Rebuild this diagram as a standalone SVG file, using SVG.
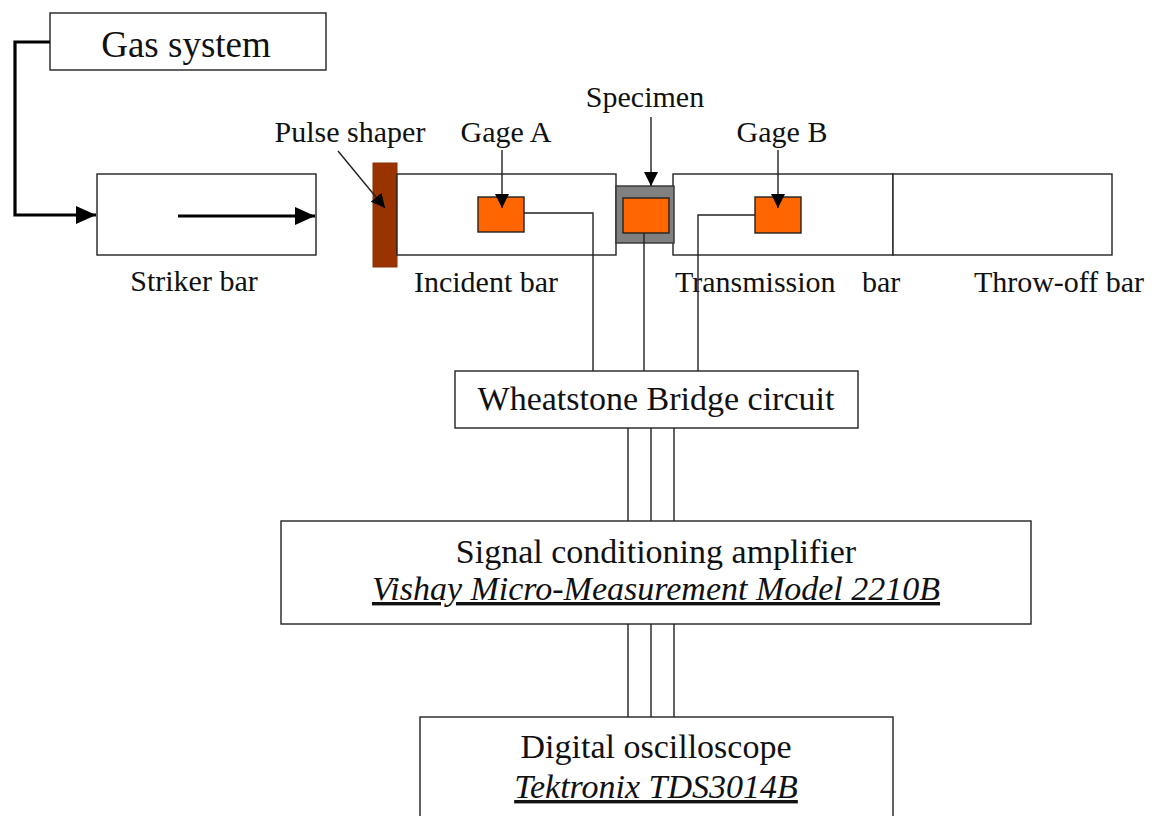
<svg xmlns="http://www.w3.org/2000/svg" width="1157" height="816" viewBox="0 0 1157 816">
<style>
text{font-family:"Liberation Serif","Times New Roman",serif;fill:#111}
.box{fill:#fff;stroke:#222;stroke-width:1.4}
.lbl{font-size:30px}
.big{font-size:34px}
.it{font-style:italic;text-decoration:underline}
.wire{fill:none;stroke:#222;stroke-width:1.4}
.thick{fill:none;stroke:#000;stroke-width:3.2}
.gage{fill:#FF6600;stroke:#222;stroke-width:1.4}
</style>
<defs>
<marker id="bigHead" markerUnits="userSpaceOnUse" viewBox="0 0 20 18" markerWidth="20" markerHeight="18" refX="20" refY="9" orient="auto">
<path d="M0,0 L20,9 L0,18 Z" fill="#000"/>
</marker>
<marker id="smallHead" markerUnits="userSpaceOnUse" viewBox="0 0 14 14" markerWidth="14" markerHeight="14" refX="14" refY="7" orient="auto">
<path d="M0,0 L14,7 L0,14 Z" fill="#000"/>
</marker>
</defs>
<rect width="1157" height="816" fill="#fff"/>

<g id="gas-system">
<rect class="box" x="50" y="13" width="276" height="57"/>
<text x="186" y="57" font-size="37" text-anchor="middle">Gas system</text>
</g>

<g id="striker-bar">
<rect class="box" x="97" y="174" width="219" height="81"/>
<text class="lbl" x="194" y="291" text-anchor="middle">Striker bar</text>
</g>

<g id="pulse-shaper">
<rect x="373" y="163" width="24" height="104" fill="#993300" stroke="#8a2e00" stroke-width="1"/>
<text class="lbl" x="350" y="142" text-anchor="middle">Pulse shaper</text>
</g>

<g id="incident-bar">
<rect class="box" x="397" y="174" width="219" height="81"/>
<text class="lbl" x="486" y="292" text-anchor="middle">Incident bar</text>
</g>

<g id="gage-a">
<rect class="gage" x="478" y="197" width="46" height="35"/>
<text class="lbl" x="506" y="142" text-anchor="middle">Gage A</text>
</g>

<g id="transmission-bar">
<rect class="box" x="673" y="174" width="220" height="81"/>
<text class="lbl" x="675" y="292" xml:space="preserve" style="white-space:pre">Transmission   <tspan x="862">bar</tspan></text>
</g>

<g id="throw-off-bar">
<rect class="box" x="893" y="174" width="219" height="81"/>
<text class="lbl" x="1059" y="292" text-anchor="middle">Throw-off bar</text>
</g>

<g id="specimen">
<rect x="616" y="186" width="58" height="57" fill="#808080" stroke="#333" stroke-width="1.4"/>
<rect class="gage" x="623" y="198" width="46" height="35"/>
<text class="lbl" x="645" y="107" text-anchor="middle">Specimen</text>
</g>

<g id="gage-b">
<rect class="gage" x="755" y="197" width="46" height="36"/>
<text class="lbl" x="782" y="142" text-anchor="middle">Gage B</text>
</g>

<g id="wheatstone">
<rect class="box" x="455" y="371" width="403" height="57"/>
<text class="big" x="656" y="410" text-anchor="middle">Wheatstone Bridge circuit</text>
</g>

<g id="amplifier">
<rect class="box" x="281" y="521" width="750" height="103"/>
<text class="big" x="656" y="563" text-anchor="middle">Signal conditioning amplifier</text>
<text class="big it" x="656" y="600" text-anchor="middle" font-size="34.5">Vishay Micro-Measurement Model 2210B</text>
</g>

<g id="oscilloscope">
<rect class="box" x="420" y="717" width="473" height="110"/>
<text class="big" x="656" y="758" text-anchor="middle">Digital oscilloscope</text>
<text class="big it" x="656" y="798" text-anchor="middle">Tektronix TDS3014B</text>
</g>

<g id="connectors">
<path class="thick" d="M50,42 H15 V215 H96" marker-end="url(#bigHead)"/>
<path class="thick" d="M178,216 H315" marker-end="url(#bigHead)"/>
<path class="wire" d="M338,151 L385,208" stroke-width="1" marker-end="url(#smallHead)"/>
<path class="wire" d="M502,150 V208" marker-end="url(#smallHead)"/>
<path class="wire" d="M651,117 V186" marker-end="url(#smallHead)"/>
<path class="wire" d="M778,150 V208" marker-end="url(#smallHead)"/>
<path class="wire" d="M524,213 H593 V371"/>
<path class="wire" d="M644,233 V371"/>
<path class="wire" d="M755,215 H698 V371"/>
<path class="wire" d="M628,428 V521 M651,428 V521 M674,428 V521"/>
<path class="wire" d="M628,624 V717 M651,624 V717 M674,624 V717"/>
</g>
</svg>
